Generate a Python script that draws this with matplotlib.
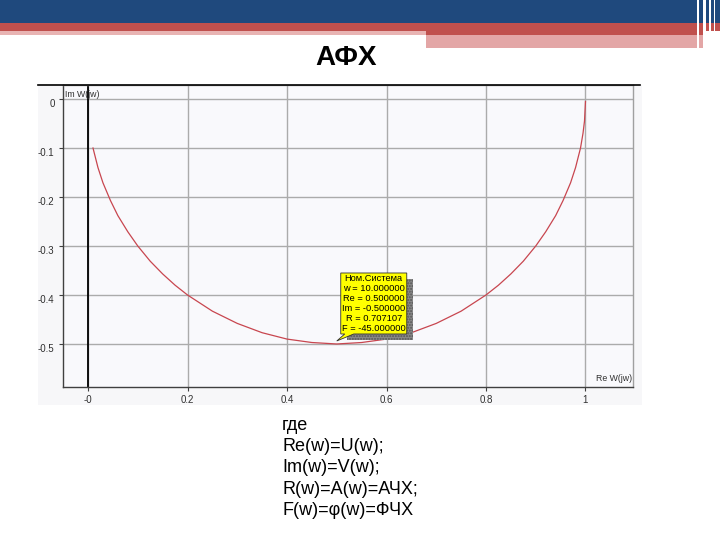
import matplotlib
matplotlib.use("Agg")
import matplotlib.pyplot as plt
from matplotlib.patches import Rectangle, Polygon
from matplotlib.transforms import ScaledTranslation, IdentityTransform

# points (Re W, Im W)
re_w = [0.010, 0.020, 0.030, 0.045, 0.060, 0.080, 0.100, 0.125, 0.150, 0.175,
        0.200, 0.250, 0.300, 0.350, 0.400, 0.450, 0.500, 0.550, 0.600, 0.650,
        0.700, 0.750, 0.800, 0.825, 0.850, 0.875, 0.900, 0.920, 0.940, 0.955,
        0.970, 0.980, 0.990, 0.995, 0.998, 1.000]
im_w = [-0.100, -0.140, -0.171, -0.207, -0.238, -0.271, -0.300, -0.331, -0.357, -0.380,
        -0.400, -0.433, -0.458, -0.477, -0.490, -0.497, -0.500, -0.497, -0.490, -0.477,
        -0.458, -0.433, -0.400, -0.380, -0.357, -0.331, -0.300, -0.271, -0.238, -0.207,
        -0.171, -0.140, -0.100, -0.070, -0.045, -0.005]

# tooltip point
mark_re = 0.5
mark_im = -0.5
tip_lines = ["Ном.Система", "w = 10.000000", "Re = 0.500000",
             "Im = -0.500000", "R = 0.707107", "F = -45.000000"]

x_ticks = [0, 0.2, 0.4, 0.6, 0.8, 1.0]
x_labels = ["-0", "0.2", "0.4", "0.6", "0.8", "1"]
y_ticks = [0, -0.1, -0.2, -0.3, -0.4, -0.5]
y_labels = ["0", "-0.1", "-0.2", "-0.3", "-0.4", "-0.5"]

notes = ["где", "Re(w)=U(w);", "Im(w)=V(w);", "R(w)=A(w)=АЧХ;", "F(w)=φ(w)=ФЧХ"]

W, H = 720, 540
fig = plt.figure(figsize=(7.2, 5.4), dpi=100)
fig.patch.set_facecolor("white")


def px_rect(x0, y0, x1, y1, color, z=1):
    # rectangle given in pixel coords measured from the top-left
    fig.add_artist(Rectangle((x0 / W, 1 - y1 / H), (x1 - x0) / W, (y1 - y0) / H,
                             transform=fig.transFigure, color=color, lw=0, zorder=z))


# slide header
blue = "#1f497d"
red = "#c0504d"
pink = "#e3a6a6"
px_rect(0, 0, 720, 23, blue)
px_rect(0, 23, 720, 31, red)
px_rect(0, 31, 426, 35, "#e8b4b3")
px_rect(426, 31, 706, 35, red)
px_rect(426, 35, 706, 48, pink)
for xl, wl in [(697, 1.5), (703, 2.5), (709, 1.5), (714, 1)]:
    px_rect(xl, 0, xl + wl, 48, "white", z=2)

fig.text(346 / W, 1 - 58 / H, "АФХ", ha="center", va="center",
         fontsize=20, fontweight="bold", family="Liberation Sans")

# chart picture background
px_rect(38, 85, 642, 405, "#f7f7f9")
fig.add_artist(plt.Line2D([38 / W, 640 / W], [1 - 85 / H, 1 - 85 / H],
                          transform=fig.transFigure, color="black", lw=1.2, zorder=3))

ax = fig.add_axes([63 / W, 1 - 387 / H, (633 - 63) / W, (387 - 85) / H])
ax.set_zorder(2)
ax.set_facecolor("#f9f9fc")
ax.set_xlim(-0.0503, 1.0955)
ax.set_ylim(-0.5878, 0.0286)

for s in ["top", "right"]:
    ax.spines[s].set_color("#a0a0a0")
    ax.spines[s].set_linewidth(1.0)
for s in ["left", "bottom"]:
    ax.spines[s].set_color("#404040")
    ax.spines[s].set_linewidth(1.0)

ax.set_xticks(x_ticks)
ax.set_xticklabels(x_labels)
ax.set_yticks(y_ticks)
ax.set_yticklabels(y_labels)
ax.tick_params(axis="both", length=3, width=0.8, color="#404040",
               labelsize=7, labelcolor="#303030", pad=3)
for lbl in ax.get_yticklabels():
    lbl.set_family("Liberation Sans")
    lbl.set_transform(lbl.get_transform() + ScaledTranslation(0, -4 / 100, fig.dpi_scale_trans))
for lbl in ax.get_xticklabels():
    lbl.set_family("Liberation Sans")

ax.grid(True, color="#ababab", lw=1.0)
ax.set_axisbelow(True)
ax.axvline(0, color="black", lw=1.3, zorder=2)

ax.plot(re_w, im_w, color="#c8464f", lw=0.9, zorder=3)

ax.text(0.004, 0.985, "Im W(jw)", transform=ax.transAxes, ha="left", va="top",
        fontsize=6.3, color="#303030", family="Liberation Sans")
ax.text(0.998, 0.012, "Re W(jw)", transform=ax.transAxes, ha="right", va="bottom",
        fontsize=6.3, color="#303030", family="Liberation Sans")

# tooltip box, placed in pixels relative to the marked point
fig.canvas.draw()
px, py = ax.transData.transform((mark_re, mark_im))
bx0, bx1 = px + 4, px + 70
by0, by1 = py + 10, py + 71
shadow = Rectangle((bx0 + 6, by0 - 6), bx1 - bx0, by1 - by0, transform=IdentityTransform(),
                   facecolor="#8a8a8a", edgecolor="#555555", hatch="......", lw=0, zorder=5)
fig.add_artist(shadow)
box = Polygon([(bx0, by0), (bx0, by1), (bx1, by1), (bx1, by0), (bx0 + 13, by0),
               (px, py + 3), (bx0 + 4, by0)], closed=True, transform=IdentityTransform(),
              facecolor="#ffff00", edgecolor="#303030", lw=0.6, zorder=6)
fig.add_artist(box)
fig.text((bx0 + bx1) / 2 / W, (by0 + by1) / 2 / H, "\n".join(tip_lines),
         ha="center", va="center", fontsize=6.7, linespacing=1.12,
         family="Liberation Sans", color="black", zorder=7)

# notes below the chart
for i, line in enumerate(notes):
    fig.text(282 / W, 1 - (425 + i * 21.4) / H, line, ha="left", va="center",
             fontsize=13, family="Liberation Sans", color="black")

fig.savefig("out.png", dpi=100)
